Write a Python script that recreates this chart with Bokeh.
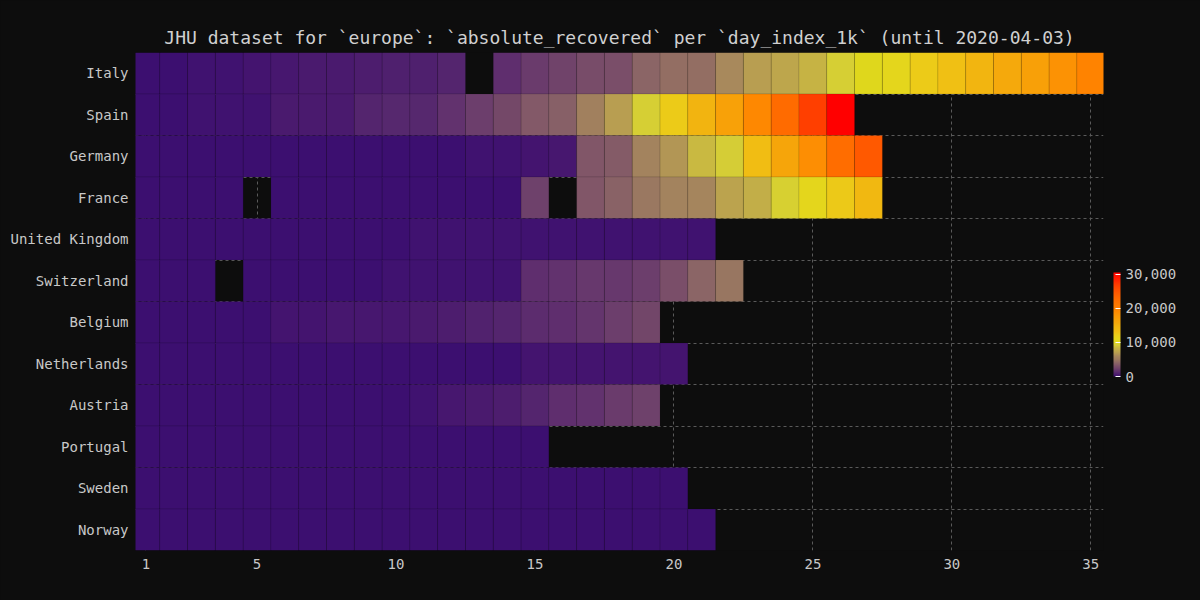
import numpy as np
from bokeh.plotting import figure
from bokeh.models import (ColumnDataSource, LinearColorMapper, ColorBar, FixedTicker,
                          NumeralTickFormatter, Range1d, GlobalInlineStyleSheet)
from bokeh.transform import transform
from bokeh.embed import file_html
from bokeh.resources import INLINE

# ---------------- data ----------------
countries = ["Italy", "Spain", "Germany", "France", "United Kingdom", "Switzerland",
             "Belgium", "Netherlands", "Austria", "Portugal", "Sweden", "Norway"]

# absolute recovered per day index (day 1 = first day with >= 1k cases); None = missing
italy = [46, 83, 149, 160, 276, 414, 523, 589, 622, 724, 724, 1045, None, 1439, 1966,
         2335, 2749, 2941, 4025, 4440, 4440, 6072, 7024, 7432, 8326, 9362, 10361,
         10950, 12384, 13030, 14620, 15729, 16847, 18278, 19758]
spain = [32, 32, 183, 183, 193, 517, 517, 530, 1028, 1081, 1107, 1588, 2125, 2575,
         3355, 3794, 5367, 7015, 9357, 12285, 14709, 16780, 19259, 22647, 26743, 30513]
germany = [18, 18, 18, 25, 25, 46, 46, 46, 67, 67, 105, 113, 180, 233, 266, 400,
           3243, 3547, 5673, 6658, 8481, 9211, 13500, 16100, 18700, 22440, 24575]
france = [12, 12, 12, 12, None, 12, 12, 12, 12, 12, 12, 12, 12, 12, 2200, None,
          3281, 3900, 4948, 5700, 5724, 7226, 7964, 9444, 10934, 12428, 14135]
united_kingdom = [19, 19, 52, 52, 52, 65, 65, 65, 65, 65, 135, 135, 135, 135, 135,
                  135, 135, 135, 151, 171, 179]
switzerland = [4, 4, 4, None, 15, 15, 15, 15, 15, 131, 131, 131, 131, 180,
               1530, 1595, 1823, 1900, 2100, 2967, 4013, 4846]
belgium = [1, 1, 1, 1, 1, 263, 340, 359, 401, 461, 547, 675, 858, 1063, 1359,
           1527, 1696, 2132, 2495]
netherlands = [2, 2, 2, 2, 2, 2, 2, 2, 2, 2, 2, 2, 2, 2, 250, 250, 250, 250, 250, 260]
austria = [6, 6, 6, 6, 9, 9, 9, 9, 9, 9, 225, 410, 479, 636, 1000, 1436, 1600,
           2022, 2250]
portugal = [5, 5, 14, 14, 22, 43, 43, 43, 43, 43, 43, 43, 43, 43, 43]
sweden = [1, 1, 1, 1, 1, 1, 1, 1, 1, 1, 1, 1, 1, 1, 16, 16, 16, 16, 16, 16]
norway = [1, 1, 1, 1, 1, 1, 1, 1, 1, 1, 1, 6, 6, 7, 7, 7, 7, 20, 32, 32, 32]

series = [italy, spain, germany, france, united_kingdom, switzerland,
          belgium, netherlands, austria, portugal, sweden, norway]

day_ticks = [1, 5, 10, 15, 20, 25, 30, 35]
colorbar_ticks = [0, 10000, 20000, 30000]
title_text = "JHU dataset for `europe`: `absolute_recovered` per `day_index_1k` (until 2020-04-03)"

# ---------------- palette (style) ----------------
anchors = [
    (0.000, "#3c0f70"), (0.010, "#46166f"), (0.018, "#4c1c6e"), (0.034, "#55276e"),
    (0.047, "#5f2e6e"), (0.056, "#65366d"), (0.066, "#6c3e6c"), (0.082, "#744868"),
    (0.095, "#7a4e69"), (0.108, "#825868"), (0.128, "#8a6466"), (0.164, "#9c7a60"),
    (0.197, "#a8895c"), (0.230, "#b9a050"), (0.272, "#c6b444"), (0.305, "#d6cf35"),
    (0.340, "#e0d81a"), (0.360, "#e5d61c"), (0.406, "#ecca18"), (0.427, "#f0c014"),
    (0.479, "#f2b510"), (0.515, "#f5a90c"), (0.552, "#f8a008"), (0.599, "#fc9204"),
    (0.648, "#ff8300"), (0.742, "#ff6c00"), (0.805, "#ff5a00"), (0.876, "#ff4000"),
    (1.000, "#ff0000"),
]
af = np.array([a[0] for a in anchors])
ac = np.array([[int(c[1:3], 16), int(c[3:5], 16), int(c[5:7], 16)] for _, c in anchors])
fs = np.linspace(0, 1, 256)
palette = []
for f in fs:
    r, g, b = (int(round(np.interp(f, af, ac[:, k]))) for k in range(3))
    palette.append("#%02x%02x%02x" % (r, g, b))

# ---------------- build source ----------------
xs, ys, vals = [], [], []
n = len(countries)
for i, s in enumerate(series):
    for d, v in enumerate(s, start=1):
        if v is None:
            continue
        xs.append(d)
        ys.append(n - 1 - i)
        vals.append(v)
src = ColumnDataSource(dict(day=xs, row=ys, value=vals))

all_vals = [v for s in series for v in s if v is not None]
mapper = LinearColorMapper(palette=palette, low=0, high=max(all_vals))

BG = "#0d0d0d"
TXT = "#c8c8c8"
FONT = "DejaVu Sans Mono"

p = figure(width=1200, height=600, output_backend="svg", toolbar_location=None,
           x_range=Range1d(0.626, 35.457), y_range=Range1d(-0.5, n - 0.5),
           title=title_text, background_fill_color=BG, border_fill_color=BG,
           outline_line_color=None, min_border_left=135, min_border_right=97,
           min_border_top=52, min_border_bottom=50)

p.stylesheets = [GlobalInlineStyleSheet(
    css="html, body { background-color: #0d0d0d; margin: 0; padding: 0; }")]

p.rect(x="day", y="row", width=1, height=1, source=src,
       fill_color=transform("value", mapper), line_color="#000000",
       line_alpha=0.1, line_width=1)

# title
p.title.text_font = FONT
p.title.text_font_size = "18px"
p.title.text_font_style = "normal"
p.title.text_color = "#d0d0d0"
p.title.align = "center"
p.title.standoff = 10

# axes
for ax in (p.xaxis[0], p.yaxis[0]):
    ax.axis_line_color = None
    ax.major_tick_line_color = None
    ax.minor_tick_line_color = None
    ax.major_tick_out = 0
    ax.major_tick_in = 0
    ax.minor_tick_out = 0
    ax.minor_tick_in = 0
    ax.major_label_text_color = TXT
    ax.major_label_text_font = FONT
    ax.major_label_text_font_size = "14px"

p.xaxis.ticker = FixedTicker(ticks=day_ticks)
p.xaxis.major_label_standoff = 8
p.yaxis.ticker = FixedTicker(ticks=list(range(n)))
p.yaxis.major_label_overrides = {n - 1 - i: c for i, c in enumerate(countries)}
p.yaxis.major_label_standoff = 7

# grids
p.xgrid.ticker = FixedTicker(ticks=day_ticks)
p.ygrid.ticker = FixedTicker(ticks=[i + 0.5 for i in range(n - 1)])
for g in (p.xgrid[0], p.ygrid[0]):
    g.grid_line_color = "#5a5a5a"
    g.grid_line_dash = "3 3"
    g.grid_line_width = 1

# color bar
cb = ColorBar(color_mapper=mapper, ticker=FixedTicker(ticks=colorbar_ticks),
              formatter=NumeralTickFormatter(format="0,0"), width=7, height=104,
              location=(0, 164), background_fill_color=None, padding=10, margin=0,
              label_standoff=5, major_label_text_color=TXT,
              major_label_text_font=FONT, major_label_text_font_size="14px")
p.add_layout(cb, "right")

open("out.html", "w").write(file_html(p, INLINE))
